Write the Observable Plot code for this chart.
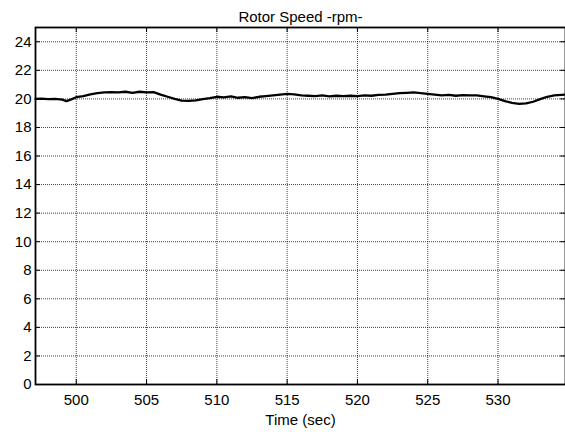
<!DOCTYPE html>
<html>
<head>
<meta charset="utf-8">
<script src="https://cdn.jsdelivr.net/npm/d3@7"></script>
<script src="https://cdn.jsdelivr.net/npm/@observablehq/plot@0.6"></script>
<style>
  html, body { margin: 0; padding: 0; background: #fff; }
  #chart svg { display: block; }
</style>
</head>
<body>
<div id="chart"></div>
<script>
const chartTitle = "Rotor Speed -rpm-";
const xLabel = "Time (sec)";
const xTicks = [500, 505, 510, 515, 520, 525, 530];
const yTicks = [0, 2, 4, 6, 8, 10, 12, 14, 16, 18, 20, 22, 24];
const xDomain = [497.1, 534.8];
const yDomain = [0, 25];

const time = [497.1, 497.5, 498, 498.5, 499, 499.3, 499.6, 500, 500.5, 501, 501.5, 502, 502.5, 503, 503.5, 504, 504.5, 505, 505.5, 506, 506.5, 507, 507.5, 508, 508.5, 509, 509.5, 510, 510.5, 511, 511.5, 512, 512.5, 513, 513.5, 514, 514.5, 515, 515.5, 516, 516.5, 517, 517.5, 518, 518.5, 519, 519.5, 520, 520.5, 521, 521.5, 522, 522.5, 523, 523.5, 524, 524.5, 525, 525.5, 526, 526.5, 527, 527.5, 528, 528.5, 529, 529.5, 530, 530.5, 531, 531.5, 532, 532.5, 533, 533.5, 534, 534.8];
const rpm = [20.0, 20.02, 19.98, 20.0, 19.95, 19.85, 19.95, 20.12, 20.2, 20.32, 20.4, 20.45, 20.48, 20.45, 20.5, 20.42, 20.5, 20.45, 20.48, 20.3, 20.15, 20.0, 19.88, 19.86, 19.9, 19.98, 20.05, 20.15, 20.1, 20.18, 20.08, 20.12, 20.05, 20.15, 20.2, 20.25, 20.3, 20.35, 20.32, 20.25, 20.22, 20.2, 20.24, 20.18, 20.22, 20.2, 20.22, 20.2, 20.24, 20.22, 20.28, 20.3, 20.35, 20.4, 20.42, 20.45, 20.4, 20.35, 20.3, 20.25, 20.28, 20.22, 20.26, 20.24, 20.25, 20.18, 20.12, 20.0, 19.85, 19.72, 19.65, 19.68, 19.8, 19.98, 20.15, 20.25, 20.3];

const data = time.map((t, i) => ({t, v: rpm[i]}));
const font = "'Liberation Sans', Arial, Helvetica, sans-serif";
const tickLenX = 0.35; // in x units (~5px)
const tickLenY = 0.35; // in y units (~5px)

const chart = Plot.plot({
  width: 565,
  height: 432,
  marginLeft: 35,
  marginRight: 0,
  marginTop: 27,
  marginBottom: 48,
  style: {fontFamily: font, fontSize: "15px", color: "#000", background: "#fff"},
  x: {domain: xDomain, ticks: xTicks},
  y: {domain: yDomain, ticks: yTicks},
  marks: [
    Plot.gridX(xTicks, {stroke: "#000", strokeOpacity: 0.75, strokeDasharray: "1,1", strokeWidth: 1}),
    Plot.gridY(yTicks, {stroke: "#000", strokeOpacity: 0.75, strokeDasharray: "1,1", strokeWidth: 1}),
    Plot.ruleX(xTicks, {y1: 0, y2: tickLenY, stroke: "#000"}),
    Plot.ruleX(xTicks, {y1: yDomain[1], y2: yDomain[1] - tickLenY, stroke: "#000"}),
    Plot.ruleY(yTicks, {x1: xDomain[0], x2: xDomain[0] + tickLenX, stroke: "#000"}),
    Plot.ruleY(yTicks, {x1: xDomain[1], x2: xDomain[1] - tickLenX, stroke: "#000"}),
    Plot.axisX(xTicks, {tickSize: 0, tickPadding: 10, fontSize: 15, label: xLabel, labelAnchor: "center", labelArrow: "none", labelOffset: 40}),
    Plot.axisY(yTicks, {tickSize: 0, tickPadding: 4, fontSize: 15, label: null}),
    Plot.line(data, {x: "t", y: "v", stroke: "#000", strokeWidth: 2.3, strokeLinejoin: "round"}),
    Plot.frame({stroke: "#000", strokeWidth: 1.8}),
    Plot.text([chartTitle], {frameAnchor: "top", dy: -6, lineAnchor: "bottom", fontSize: 15, fill: "#000"})
  ]
});
document.getElementById("chart").appendChild(chart);
</script>
</body>
</html>
